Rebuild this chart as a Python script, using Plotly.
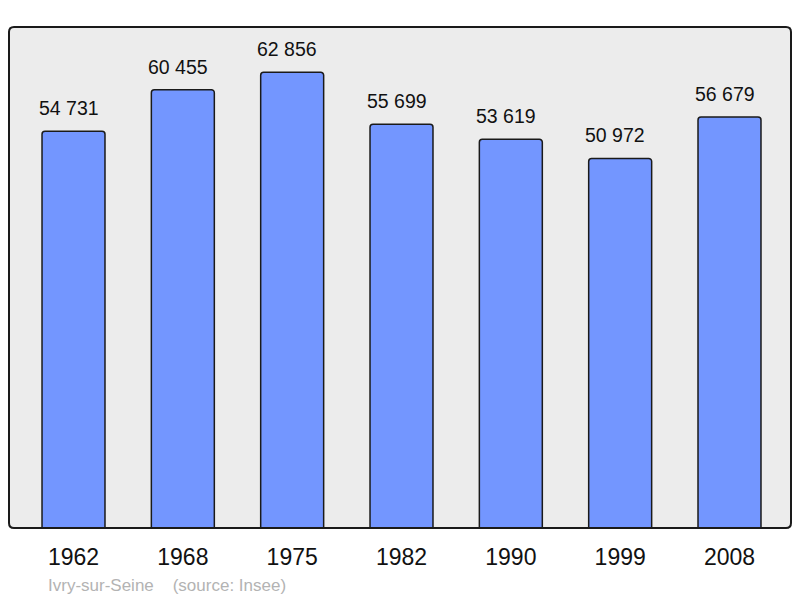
import plotly.graph_objects as go

years = ["1962", "1968", "1975", "1982", "1990", "1999", "2008"]
population = [54731, 60455, 62856, 55699, 53619, 50972, 56679]
value_labels = ["54 731", "60 455", "62 856", "55 699", "53 619", "50 972", "56 679"]

W, H = 800, 598
L, R, T, B = 9, 9, 27, 70
xs = list(range(len(years)))
FONT = "Liberation Sans, Arial, sans-serif"

fig = go.Figure()
fig.add_trace(go.Bar(
    x=xs, y=population, width=0.576,
    marker=dict(color="#7396ff", line=dict(color="#1a1a1a", width=1.5)),
    hoverinfo="skip",
))

for x, v, t in zip(xs, population, value_labels):
    fig.add_annotation(x=x, y=v, text=t, showarrow=False, yanchor="bottom",
                       yshift=10, xshift=-5,
                       font=dict(size=19.5, color="#111111", family=FONT))

fig.add_annotation(xref="paper", yref="paper", x=(46 - L) / (W - L - R),
                   y=-(585 - (H - B)) / (H - T - B), xanchor="left", yanchor="middle",
                   text="Ivry-sur-Seine&nbsp;&nbsp;&nbsp;&nbsp;(source: Insee)", showarrow=False,
                   font=dict(size=17, color="#b3b3b3", family=FONT))

# rounded frame
rx = 5 / (W - L - R)
ry = 5 / (H - T - B)
path = (f"M {rx},0 L {1-rx},0 Q 1,0 1,{ry} L 1,{1-ry} Q 1,1 {1-rx},1 "
        f"L {rx},1 Q 0,1 0,{1-ry} L 0,{ry} Q 0,0 {rx},0 Z")
fig.add_shape(type="path", path=path, xref="paper", yref="paper",
              line=dict(color="#1a1a1a", width=2), layer="above")

fig.update_layout(
    width=W, height=H,
    margin=dict(l=L, r=R, t=T, b=B),
    paper_bgcolor="white", plot_bgcolor="#ececec",
    showlegend=False, barcornerradius=3,
    font=dict(family=FONT, color="#111111"),
    xaxis=dict(range=[-0.59, 6.5625], tickvals=xs, ticktext=years,
               tickfont=dict(size=23, color="#111111"), showgrid=False,
               zeroline=False, showline=False, ticks="", ticklabelstandoff=13),
    yaxis=dict(range=[0, 69100], showgrid=False, zeroline=False,
               showticklabels=False, showline=False, ticks=""),
)

fig.write_html("out.html", config={"displayModeBar": False},
               post_script="document.body.style.margin='0';document.body.style.overflow='hidden';")
